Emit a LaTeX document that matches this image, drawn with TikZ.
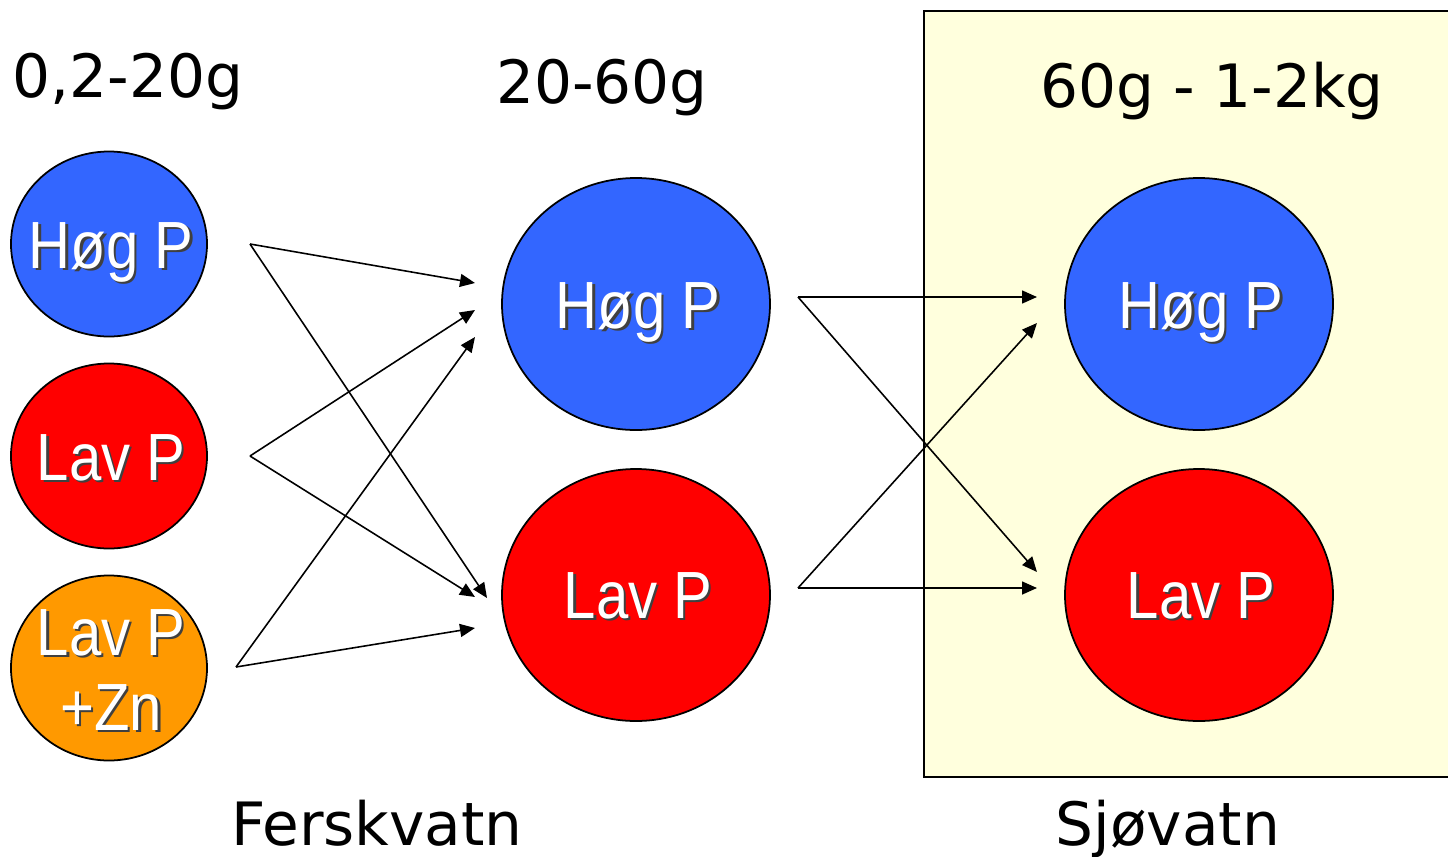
\documentclass[tikz,border=0pt]{standalone}
\usepackage{fontspec}
\setmainfont{DejaVu Sans}
\newfontfamily\elfont{Liberation Sans}
\usetikzlibrary{shapes.geometric,arrows.meta}
\definecolor{hogblue}{RGB}{51,102,255}
\definecolor{lavred}{RGB}{255,0,0}
\definecolor{znorange}{RGB}{255,153,0}
\definecolor{seayellow}{RGB}{255,255,221}
\tikzset{
  blob/.style={ellipse, draw=black, line width=0.5pt, inner sep=0pt},
  smallblob/.style={blob, minimum width=1.96cm, minimum height=1.85cm},
  bigblob/.style={blob, minimum width=2.68cm, minimum height=2.52cm},
  conn/.style={-{Triangle[length=0.15cm,width=0.13cm]}, line width=0.45pt},
  lbl/.style={anchor=base, inner sep=0pt, font=\fontsize{17}{20}\selectfont},
  eltext/.style={anchor=base, inner sep=0pt, text=white, font=\elfont\fontsize{19}{22}\selectfont},
  elshadow/.style={eltext, text=black!75, xshift=0.025cm, yshift=-0.025cm},
}
\newcommand\shtxt[3]{%
  \node[elshadow] (#1s) at (#2) {\scalebox{0.87}[1]{#3}};
  \node[eltext] (#1) at (#2) {\scalebox{0.87}[1]{#3}};
}
\begin{document}
\begin{tikzpicture}
\useasboundingbox[fill=white] (0,0) rectangle (14.48,8.56);
% sea box
\draw[fill=seayellow, line width=0.7pt] (9.24,0.79) rectangle (14.75,8.45);
% headers
\node[lbl] (h1) at (1.28,7.59) {0,2-20g};
\node[lbl] (h2) at (6.02,7.53) {20-60g};
\node[lbl] (h3) at (12.12,7.49) {60g - 1-2kg};
\node[lbl] (f1) at (3.77,0.11) {Ferskvatn};
\node[lbl] (f2) at (11.68,0.11) {Sjøvatn};
% ellipses
\node[smallblob, fill=hogblue] (L1) at (1.09,6.12) {};
\node[smallblob, fill=lavred] (L2) at (1.09,4.00) {};
\node[smallblob, fill=znorange] (L3) at (1.09,1.88) {};
\node[bigblob, fill=hogblue] (M1) at (6.36,5.52) {};
\node[bigblob, fill=lavred] (M2) at (6.36,2.61) {};
\node[bigblob, fill=hogblue] (R1) at (11.99,5.52) {};
\node[bigblob, fill=lavred] (R2) at (11.99,2.61) {};
% ellipse texts
\shtxt{tL1}{1.11,5.88}{Høg P}
\shtxt{tL2}{1.11,3.76}{Lav P}
\shtxt{tL3a}{1.11,2.01}{Lav P}
\shtxt{tL3b}{1.11,1.26}{+Zn}
\shtxt{tM1}{6.38,5.28}{Høg P}
\shtxt{tM2}{6.38,2.38}{Lav P}
\shtxt{tR1}{12.01,5.28}{Høg P}
\shtxt{tR2}{12.01,2.38}{Lav P}
% connector end points
\coordinate (a1) at (2.50,6.12);
\coordinate (a2) at (2.50,4.00);
\coordinate (a3) at (2.36,1.89);
\coordinate (m1a) at (4.75,5.73);
\coordinate (m1b) at (4.75,5.46);
\coordinate (m1c) at (4.75,5.19);
\coordinate (m2a) at (4.87,2.58);
\coordinate (m2b) at (4.75,2.59);
\coordinate (m2c) at (4.75,2.28);
\coordinate (b1) at (7.98,5.59);
\coordinate (b2) at (7.98,2.68);
\coordinate (r1a) at (10.37,5.59);
\coordinate (r1b) at (10.37,5.33);
\coordinate (r2a) at (10.37,2.84);
\coordinate (r2b) at (10.37,2.68);
% connectors
\draw[conn] (a1) -- (m1a);
\draw[conn] (a1) -- (m2a);
\draw[conn] (a2) -- (m1b);
\draw[conn] (a2) -- (m2b);
\draw[conn] (a3) -- (m1c);
\draw[conn] (a3) -- (m2c);
\draw[conn] (b1) -- (r1a);
\draw[conn] (b1) -- (r2a);
\draw[conn] (b2) -- (r2b);
\draw[conn] (b2) -- (r1b);
\end{tikzpicture}
\end{document}
